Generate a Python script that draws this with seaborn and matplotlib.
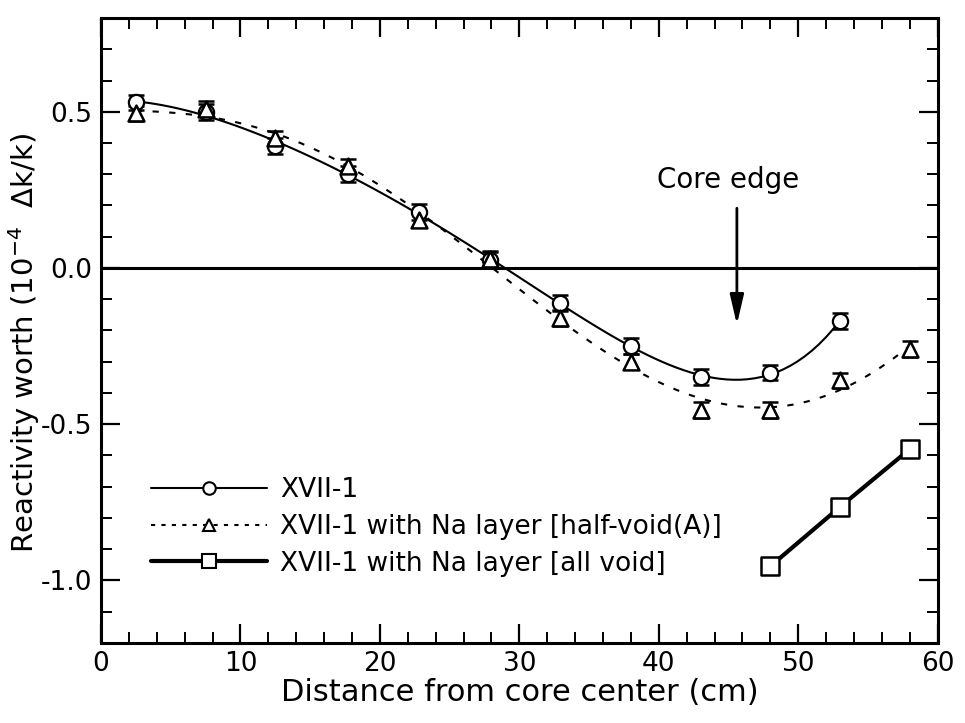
import numpy as np
import pandas as pd
import matplotlib
matplotlib.use("Agg")
import matplotlib.pyplot as plt
from matplotlib.lines import Line2D
from matplotlib.ticker import MultipleLocator
import seaborn as sns

# ---- data ----
x_xvii = [2.5, 7.5, 12.5, 17.7, 22.8, 27.9, 32.9, 38.0, 43.0, 48.0, 53.0]
y_xvii = [0.53, 0.50, 0.39, 0.30, 0.18, 0.025, -0.113, -0.25, -0.35, -0.335, -0.17]

x_half = [2.5, 7.5, 12.5, 17.7, 22.8, 27.9, 32.9, 38.0, 43.0, 48.0, 53.0, 58.0]
y_half = [0.495, 0.51, 0.415, 0.325, 0.155, 0.03, -0.16, -0.30, -0.455, -0.455, -0.36, -0.26]

x_void = [48.0, 53.0, 58.0]
y_void = [-0.955, -0.765, -0.58]

err = 0.025

labels = ["XVII-1",
          "XVII-1 with Na layer [half-void(A)]",
          "XVII-1 with Na layer [all void]"]

sns.set_theme(style="ticks")
plt.rcParams["font.family"] = ["DejaVu Sans"]
plt.rcParams["text.color"] = "black"
plt.rcParams["axes.labelcolor"] = "black"
plt.rcParams["xtick.color"] = "black"
plt.rcParams["ytick.color"] = "black"

fig = plt.figure(figsize=(9.65, 7.23), dpi=100)
ax = fig.add_axes([0.1047, 0.111, 0.867, 0.864])

df1 = pd.DataFrame({"x": x_xvii, "y": y_xvii})
df2 = pd.DataFrame({"x": x_half, "y": y_half})
df3 = pd.DataFrame({"x": x_void, "y": y_void})

# zero line
ax.axhline(0, color="black", lw=2.2, zorder=1)

# fitted curves
sns.regplot(data=df1, x="x", y="y", order=5, ci=None, scatter=False, truncate=True,
            ax=ax, line_kws=dict(color="black", lw=1.5, zorder=2))
sns.regplot(data=df2, x="x", y="y", order=5, ci=None, scatter=False, truncate=True,
            ax=ax, line_kws=dict(color="black", lw=1.5, ls=(0, (3, 5)), zorder=2))

# all-void line
sns.lineplot(data=df3, x="x", y="y", ax=ax, color="black", lw=3, zorder=2)

# error bars
for d in (df1, df2):
    ax.errorbar(d["x"], d["y"], yerr=err, fmt="none", ecolor="black",
                elinewidth=1.3, capsize=6, capthick=1.8, zorder=3)

# markers
sns.scatterplot(data=df1, x="x", y="y", ax=ax, marker="o", s=120,
                facecolor="white", edgecolor="black", linewidth=1.6, zorder=4)
sns.scatterplot(data=df2, x="x", y="y", ax=ax, marker="^", s=130,
                facecolor="white", edgecolor="black", linewidth=1.8, zorder=4)
sns.scatterplot(data=df3, x="x", y="y", ax=ax, marker="s", s=160,
                facecolor="white", edgecolor="black", linewidth=1.8, zorder=4)

# annotation
ax.annotate("", xy=(45.6, -0.19), xytext=(45.6, 0.20),
            arrowprops=dict(arrowstyle="-|>,head_width=0.35,head_length=1.5",
                            color="black", lw=2))
ax.text(45.0, 0.28, "Core edge", ha="center", va="center", fontsize=20)

ax.set_xlim(0, 60)
ax.set_ylim(-1.2, 0.8)
ax.xaxis.set_major_locator(MultipleLocator(10))
ax.xaxis.set_minor_locator(MultipleLocator(2))
ax.yaxis.set_major_locator(MultipleLocator(0.5))
ax.yaxis.set_minor_locator(MultipleLocator(0.1))
ax.set_xticks([0, 10, 20, 30, 40, 50, 60])
ax.set_xticklabels(["0", "10", "20", "30", "40", "50", "60"])
ax.set_yticks([-1.0, -0.5, 0.0, 0.5])
ax.set_yticklabels(["-1.0", "-0.5", "0.0", "0.5"])
ax.tick_params(which="both", direction="in", top=True, right=True, colors="black",
               labelsize=19)
ax.tick_params(which="major", length=14, width=1.6)
ax.tick_params(which="minor", length=8, width=1.4)
ax.tick_params(axis="y", pad=6)
ax.tick_params(axis="x", pad=6)
for s in ax.spines.values():
    s.set_linewidth(2.2)
    s.set_color("black")

ax.set_xlabel("Distance from core center (cm)", fontsize=22, labelpad=1)
ax.set_ylabel(r"Reactivity worth (10$^{-4}$  $\Delta$k/k)", fontsize=21)
ax.yaxis.set_label_coords(-0.070, 0.48)

handles = [
    Line2D([], [], color="black", lw=1.5, marker="o", ms=9, mfc="white", mec="black", mew=1.5),
    Line2D([], [], color="black", lw=1.5, ls=(0, (2, 3)), marker="^", ms=8, mfc="white", mec="black", mew=1.5),
    Line2D([], [], color="black", lw=3, marker="s", ms=10, mfc="white", mec="black", mew=1.5),
]
leg = ax.legend(handles, labels, loc="lower left", bbox_to_anchor=(0.047, 0.089),
                frameon=False, fontsize=19, handlelength=4.4, handletextpad=0.5,
                labelspacing=0.4, numpoints=1, borderaxespad=0)

fig.savefig("out.png", dpi=100)
